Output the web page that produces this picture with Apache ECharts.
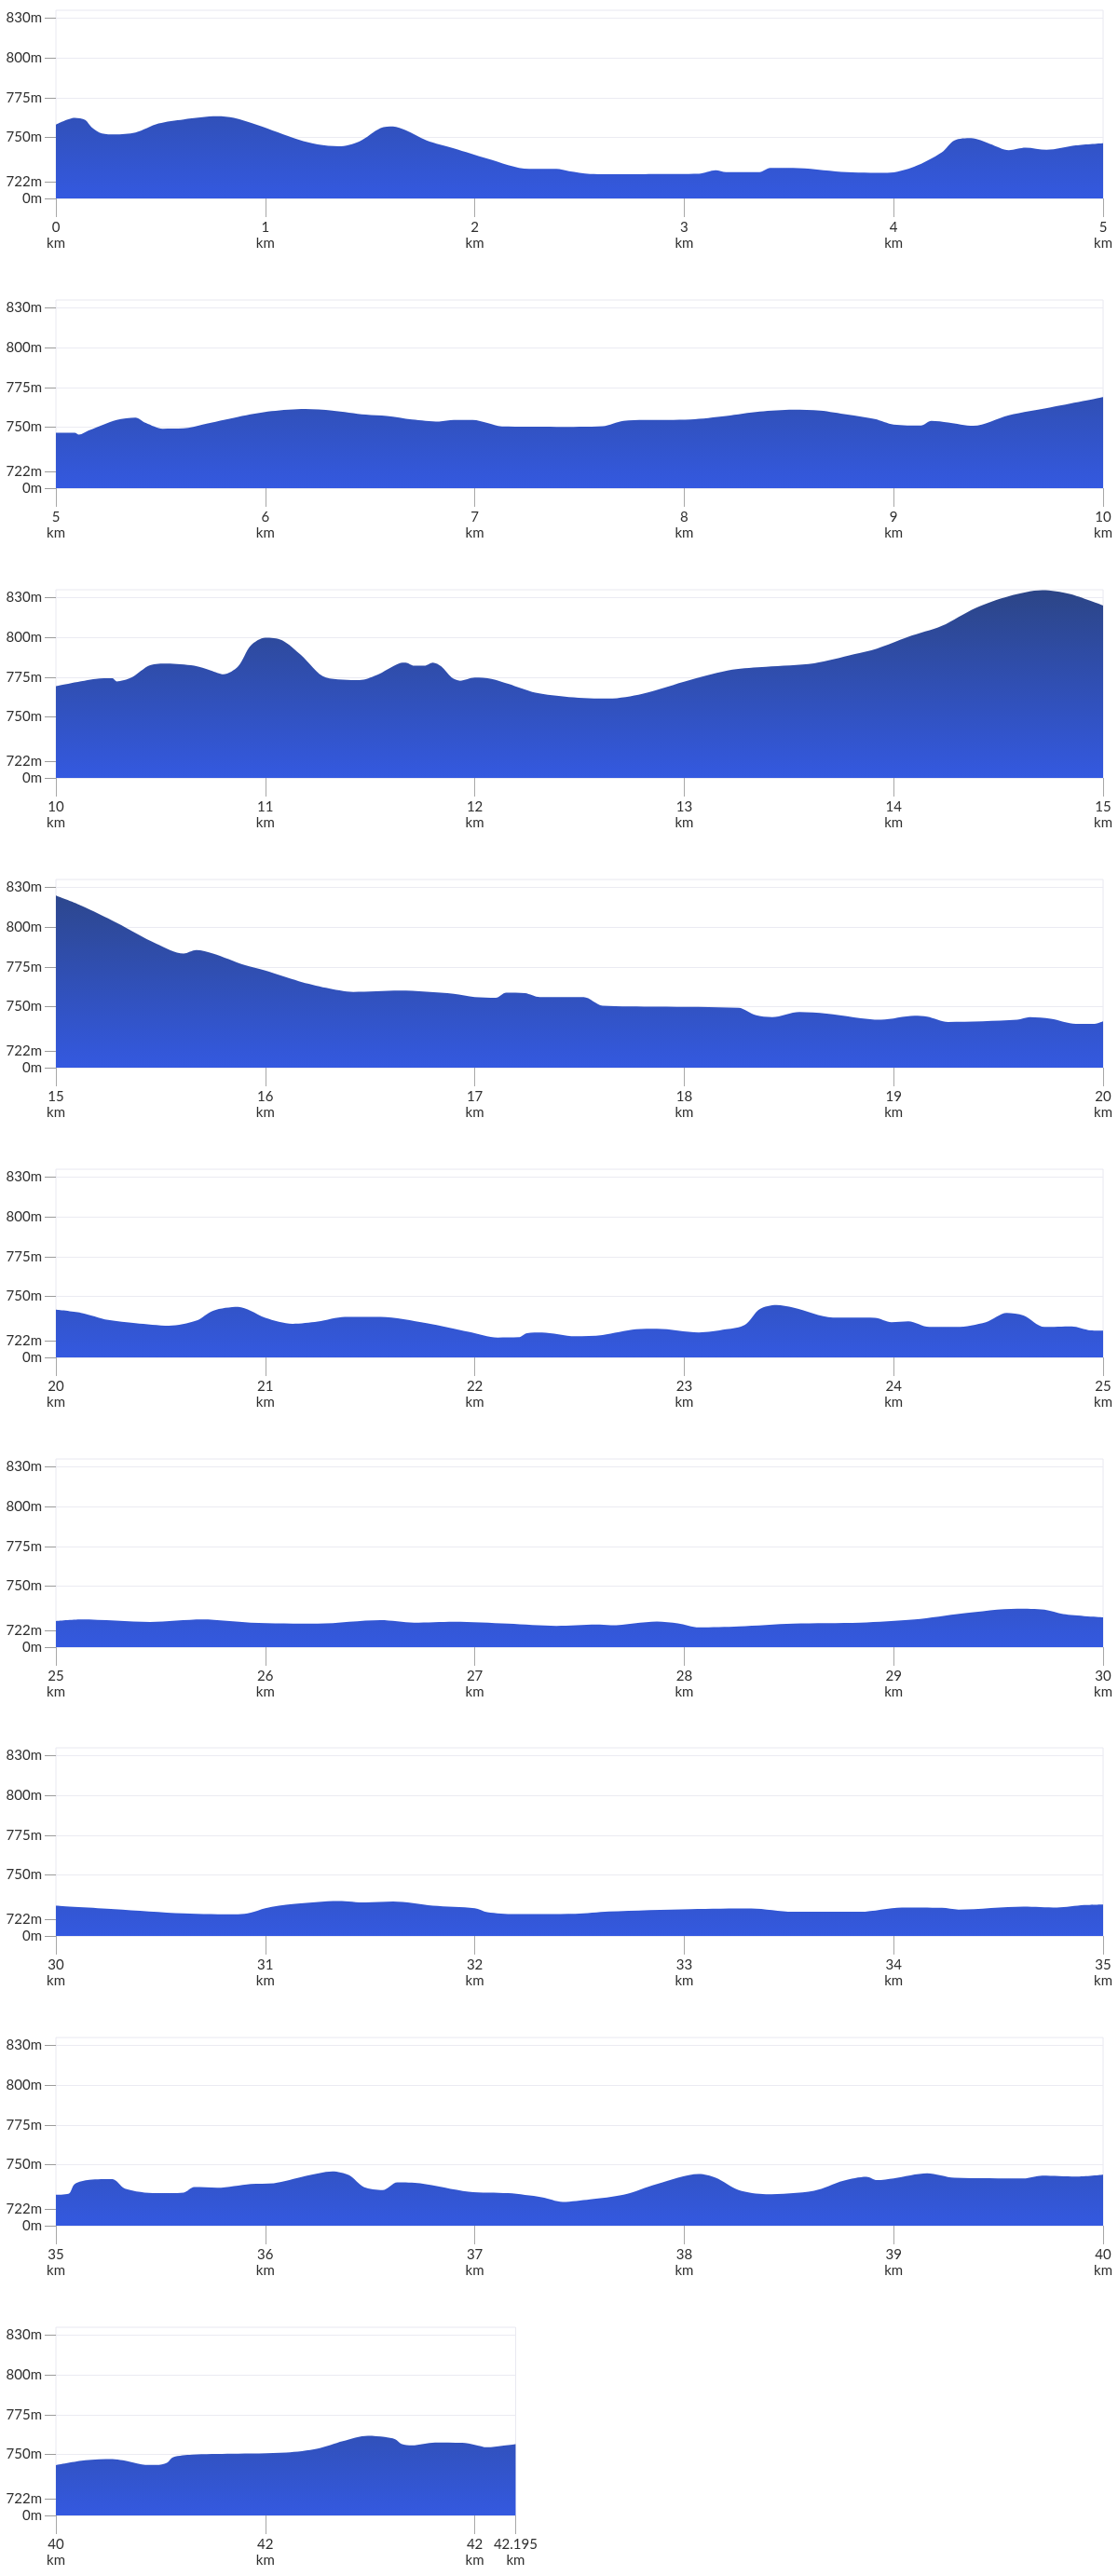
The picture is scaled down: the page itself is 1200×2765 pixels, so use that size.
<!DOCTYPE html>
<html>
<head>
<meta charset="utf-8">
<script src="https://cdn.jsdelivr.net/npm/echarts@6/dist/echarts.min.js"></script>
<style>
  html, body { margin: 0; background: #fff; }
  #chart { width: 1200px; height: 2765px; }
</style>
</head>
<body>
<div id="chart"></div>
<script>
// elevation profile, [km, metres], one array per 5 km leg
const leg1 = [[0, 757.9], [0.09, 762.2], [0.14, 760.8], [0.17, 756.3], [0.22, 752.3], [0.28, 751.7], [0.38, 752.9], [0.49, 758.6], [0.61, 761.2], [0.77, 763.2], [0.85, 762.2], [0.96, 757.7], [1.16, 748.3], [1.25, 745.3], [1.35, 744.1], [1.45, 747.3], [1.55, 755.7], [1.61, 756.7], [1.67, 754.3], [1.77, 747.9], [1.90, 742.9], [2.06, 736.4], [2.26, 729.8], [2.39, 729.8], [2.45, 728.4], [2.55, 726.6], [2.71, 726.4], [2.87, 726.6], [3.07, 726.8], [3.15, 729.0], [3.20, 727.8], [3.36, 727.8], [3.41, 730.4], [3.52, 730.4], [3.75, 728.0], [3.97, 727.4], [4.10, 731.4], [4.23, 740.4], [4.29, 747.9], [4.37, 749.3], [4.46, 745.7], [4.55, 741.7], [4.63, 743.3], [4.73, 741.9], [4.87, 744.7], [5.0, 746.1]];
const leg2 = [[5.0, 746.2], [5.09, 746.2], [5.11, 745.0], [5.16, 747.8], [5.29, 754.3], [5.38, 755.9], [5.43, 752.4], [5.51, 748.8], [5.61, 749.0], [5.70, 751.4], [5.87, 756.3], [6.03, 759.9], [6.19, 761.3], [6.32, 760.3], [6.48, 757.7], [6.58, 756.9], [6.70, 754.7], [6.83, 753.4], [6.90, 754.3], [6.99, 754.3], [7.06, 752.4], [7.13, 750.2], [7.39, 750.0], [7.61, 750.4], [7.71, 753.8], [7.81, 754.3], [8.03, 754.7], [8.20, 756.9], [8.36, 759.7], [8.52, 760.9], [8.65, 760.3], [8.78, 757.7], [8.91, 754.9], [9.00, 751.4], [9.13, 750.8], [9.18, 753.8], [9.26, 752.8], [9.38, 750.6], [9.55, 757.3], [9.75, 762.3], [10.0, 768.8]];
const leg3 = [[10.0, 769.3], [10.19, 773.9], [10.27, 774.3], [10.29, 772.3], [10.36, 774.7], [10.45, 782.6], [10.53, 783.6], [10.66, 782.2], [10.74, 779.2], [10.80, 776.8], [10.87, 781.8], [10.93, 795.0], [11.00, 800.0], [11.08, 798.4], [11.17, 789.1], [11.29, 774.7], [11.45, 773.1], [11.53, 776.2], [11.64, 783.8], [11.67, 784.2], [11.71, 782.2], [11.76, 782.2], [11.80, 784.2], [11.84, 781.8], [11.89, 774.7], [11.93, 772.7], [12.00, 774.7], [12.08, 773.9], [12.16, 770.7], [12.29, 765.1], [12.45, 762.4], [12.64, 761.4], [12.80, 764.4], [13.03, 773.3], [13.23, 779.8], [13.39, 781.6], [13.62, 783.8], [13.81, 789.5], [13.92, 793.1], [14.07, 800.6], [14.23, 807.5], [14.39, 818.8], [14.55, 826.3], [14.71, 830.1], [14.84, 827.7], [15.0, 820.4]];
const leg4 = [[15.0, 820.2], [15.12, 813.9], [15.29, 803.0], [15.48, 789.7], [15.61, 783.5], [15.67, 785.7], [15.75, 783.5], [15.90, 776.2], [16.0, 772.6], [16.16, 765.9], [16.29, 761.7], [16.42, 759.1], [16.64, 759.9], [16.90, 757.9], [17.00, 755.8], [17.10, 755.4], [17.15, 758.7], [17.24, 758.3], [17.31, 755.8], [17.52, 755.8], [17.61, 750.4], [17.87, 749.8], [18.26, 749.0], [18.34, 744.4], [18.42, 743.1], [18.55, 746.4], [18.68, 745.4], [18.94, 741.5], [19.10, 744.0], [19.16, 743.5], [19.26, 740.1], [19.59, 741.5], [19.65, 743.1], [19.75, 742.1], [19.87, 738.9], [19.96, 738.9], [20.0, 740.5]];
const leg5 = [[20.0, 741.3], [20.12, 739.3], [20.25, 734.8], [20.38, 732.8], [20.54, 731.2], [20.67, 734.4], [20.75, 740.7], [20.87, 743.1], [20.93, 740.7], [21.00, 736.2], [21.13, 732.4], [21.25, 733.8], [21.38, 736.8], [21.55, 736.8], [21.77, 732.8], [21.97, 727.3], [22.11, 723.7], [22.21, 723.9], [22.25, 726.5], [22.32, 726.9], [22.48, 724.5], [22.61, 725.3], [22.77, 728.9], [22.87, 729.2], [23.07, 726.9], [23.20, 728.9], [23.29, 731.8], [23.36, 741.7], [23.44, 744.3], [23.52, 742.7], [23.71, 736.4], [23.91, 736.2], [23.99, 733.4], [24.07, 734.0], [24.17, 730.4], [24.30, 730.4], [24.44, 733.4], [24.54, 739.3], [24.62, 737.7], [24.72, 730.4], [24.85, 730.8], [24.94, 728.3], [25.0, 728.1]];
const leg6 = [[25.0, 727.6], [25.12, 728.6], [25.45, 727.0], [25.70, 728.6], [25.93, 726.6], [26.25, 726.0], [26.55, 728.2], [26.71, 726.6], [26.90, 727.2], [27.16, 726.0], [27.39, 724.6], [27.58, 725.4], [27.65, 725.0], [27.87, 727.4], [27.97, 726.2], [28.07, 723.6], [28.26, 724.2], [28.52, 726.0], [28.84, 726.6], [29.10, 728.6], [29.33, 732.5], [29.59, 735.5], [29.72, 734.9], [29.81, 732.1], [30.0, 730.0]];
const leg7 = [[30.0, 730.3], [30.28, 728.1], [30.61, 725.4], [30.87, 724.8], [30.93, 725.8], [31.00, 728.7], [31.13, 731.3], [31.35, 733.3], [31.48, 732.3], [31.61, 732.9], [31.80, 730.3], [32.00, 728.7], [32.06, 726.2], [32.19, 725.0], [32.48, 725.2], [32.64, 726.6], [33.03, 728.1], [33.32, 728.5], [33.52, 726.4], [33.84, 726.4], [34.04, 729.1], [34.23, 728.9], [34.31, 727.8], [34.62, 729.7], [34.78, 729.1], [34.91, 730.7], [35.0, 731.1]];
const leg8 = [[35.0, 730.7], [35.06, 731.3], [35.09, 737.6], [35.16, 740.2], [35.27, 740.6], [35.33, 734.6], [35.48, 731.7], [35.61, 732.1], [35.66, 735.6], [35.77, 735.2], [35.93, 737.6], [36.04, 738.0], [36.19, 742.5], [36.32, 745.5], [36.40, 743.1], [36.47, 735.6], [36.56, 733.7], [36.63, 738.6], [36.74, 738.0], [36.97, 732.7], [37.16, 731.7], [37.32, 729.1], [37.42, 726.2], [37.55, 727.8], [37.71, 730.7], [37.87, 737.6], [38.07, 743.9], [38.15, 741.5], [38.26, 733.7], [38.39, 731.1], [38.62, 733.3], [38.76, 739.6], [38.87, 742.1], [38.92, 740.0], [39.00, 741.1], [39.16, 744.3], [39.29, 741.5], [39.62, 741.1], [39.71, 742.9], [39.87, 742.3], [40.0, 743.5]];
const leg9 = [[40.0, 743.0], [40.14, 746.1], [40.27, 746.9], [40.32, 746.1], [40.41, 743.5], [40.48, 743.1], [40.53, 744.5], [40.56, 748.0], [40.65, 749.6], [40.84, 750.2], [41.10, 751.0], [41.25, 753.5], [41.37, 758.2], [41.49, 761.6], [41.57, 760.8], [41.62, 759.4], [41.65, 756.5], [41.70, 755.5], [41.81, 757.3], [41.94, 757.1], [42.00, 755.9], [42.06, 754.3], [42.13, 755.3], [42.195, 756.3]];

const legStart = [0, 5, 10, 15, 20, 25, 30, 35, 40];
const legEnd = [5, 10, 15, 20, 25, 30, 35, 40, 42.195];

// y ticks: the source axis labels do not sit at their own values, keep the drawn positions
const yTickValues = [711.1, 721.5, 750, 775, 800, 825.5];
const yTickLabels = ['0m', '722m', '750m', '775m', '800m', '830m'];
const lastKmTicks = [40, 41, 42, 42.195];
const lastKmLabels = ['40', '42', '42', '42.195'];

const legs = [leg1, leg2, leg3, leg4, leg5, leg6, leg7, leg8, leg9];

const PX_PER_KM = 224.8;
const TOP0 = 11;
const STEP = 310.9;
const PLOT_H = 202;
const LEFT = 60;
const labelFont = { fontFamily: 'Lato', fontSize: 15, color: '#2f2f2f' };

const grid = [], xAxis = [], yAxis = [], series = [];

legs.forEach((leg, i) => {
  const top = Math.round(TOP0 + i * STEP);
  const last = i === legs.length - 1;
  const kmTicks = last ? lastKmTicks : [0, 1, 2, 3, 4, 5].map(k => legStart[i] + k);

  grid.push({
    left: LEFT,
    top: top,
    width: (legEnd[i] - legStart[i]) * PX_PER_KM,
    height: PLOT_H,
    show: true,
    borderColor: '#e8e8f0',
    borderWidth: 1
  });

  xAxis.push({
    gridIndex: i,
    type: 'value',
    min: legStart[i],
    max: legEnd[i],
    axisLine: { show: false },
    axisTick: { show: true, length: 20, lineStyle: { color: '#a8a8a8' }, customValues: kmTicks },
    axisLabel: Object.assign({
      customValues: kmTicks,
      margin: 23,
      lineHeight: 17,
      formatter: v => (last ? lastKmLabels[lastKmTicks.indexOf(v)] : String(v)) + '\nkm'
    }, labelFont),
    splitLine: { show: false }
  });

  yAxis.push({
    gridIndex: i,
    type: 'value',
    min: 711.1,
    max: 830.4,
    axisLine: { show: false },
    axisTick: { show: true, length: 12, lineStyle: { color: '#9c9c9c' }, customValues: yTickValues },
    axisLabel: Object.assign({
      customValues: yTickValues,
      margin: 15,
      formatter: v => yTickLabels[yTickValues.indexOf(v)]
    }, labelFont),
    splitLine: { show: true, lineStyle: { color: '#ebebf2' } }
  });

  series.push({
    type: 'line',
    xAxisIndex: i,
    yAxisIndex: i,
    data: leg,
    symbol: 'none',
    smooth: 0.3,
    lineStyle: { width: 0 },
    areaStyle: {
      origin: 'start',
      opacity: 1,
      color: new echarts.graphic.LinearGradient(0, top, 0, top + PLOT_H, [
        { offset: 0, color: '#2c4586' },
        { offset: 1, color: '#3459e0' }
      ], true)
    },
    silent: true
  });
});

const chart = echarts.init(document.getElementById('chart'));
chart.setOption({
  animation: false,
  grid,
  xAxis,
  yAxis,
  series
});
</script>
</body>
</html>
